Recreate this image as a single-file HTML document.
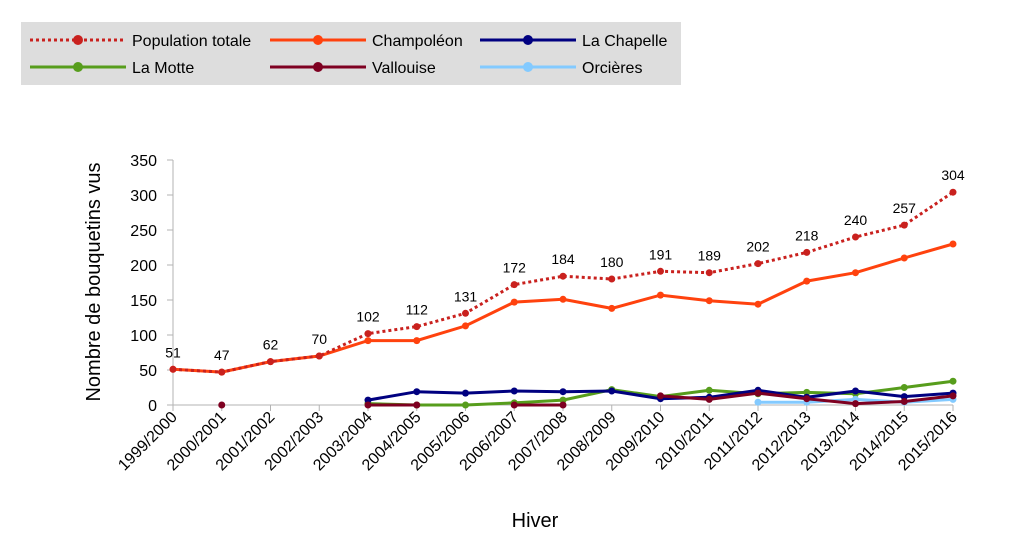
<!DOCTYPE html>
<html><head><meta charset="utf-8"><style>
body{margin:0;background:#fff;font-family:"Liberation Sans",sans-serif}
svg text{font-family:"Liberation Sans",sans-serif}
</style></head><body>
<svg id="c" width="1024" height="543">
<rect x="21" y="22" width="660" height="63" fill="#dddddd"/>
</svg>
<script>
const categories=["1999/2000","2000/2001","2001/2002","2002/2003","2003/2004","2004/2005","2005/2006","2006/2007","2007/2008","2008/2009","2009/2010","2010/2011","2011/2012","2012/2013","2013/2014","2014/2015","2015/2016"];
const popTotale=[51,47,62,70,102,112,131,172,184,180,191,189,202,218,240,257,304];
const champoleon=[51,47,62,70,92,92,113,147,151,138,157,149,144,177,189,210,230];
const laChapelle=[null,null,null,null,7,19,17,20,19,20,9,11,21,11,20,12,17];
const laMotte=[null,null,null,null,2,0,0,3,7,22,12,21,16,18,16,25,34];
const vallouise=[null,0,null,null,0,0,null,0,0,null,13,8,17,9,2,5,13];
const orcieres=[null,null,null,null,null,null,null,null,null,null,null,null,4,4,8,4,8];
const yTicks=[0,50,100,150,200,250,300,350];
const svg=document.getElementById('c');const NS='http://www.w3.org/2000/svg';
function mk(t,a,p){const e=document.createElementNS(NS,t);for(const k in a)e.setAttribute(k,a[k]);(p||svg).appendChild(e);return e;}
const X=i=>173+i*(953-173)/(categories.length-1);
const Y=v=>405-v*(245/350);
yTicks.forEach(v=>{const t=mk('text',{x:157,y:Y(v)+6,'text-anchor':'end','font-size':16,fill:'#000'});t.textContent=v;


mk('line',{x1:167,x2:173,y1:Y(v),y2:Y(v),stroke:'#b3b3b3'});});
mk('line',{x1:173,x2:173,y1:Y(350),y2:405,stroke:'#b3b3b3'});
mk('line',{x1:173,x2:953,y1:405,y2:405,stroke:'#b3b3b3'});
categories.forEach((c,i)=>{mk('line',{x1:X(i),x2:X(i),y1:405,y2:411,stroke:'#b3b3b3'});
const t=mk('text',{x:X(i)+5,y:418,'text-anchor':'end','font-size':16,transform:`rotate(-45 ${X(i)+5} 418)`});t.textContent=c;

});
function series(d,col,name,dash){const g=mk('g',{});


let seg=[];const segs=[];d.forEach((v,i)=>{if(v==null){if(seg.length)segs.push(seg);seg=[];}else seg.push([X(i),Y(v)]);});if(seg.length)segs.push(seg);
segs.forEach(s=>{if(s.length>1)mk('polyline',{points:s.map(p=>p.join(',')).join(' '),fill:'none',stroke:col,'stroke-width':3,'stroke-dasharray':dash||'none'},g);});
d.forEach((v,i)=>{if(v!=null)mk('circle',{cx:X(i),cy:Y(v),r:3.5,fill:col},g);});}
series(laMotte,'#579d1c','series-la-motte');
series(laChapelle,'#000080','series-la-chapelle');
series(orcieres,'#83caff','series-orcieres');
series(vallouise,'#7e0021','series-vallouise');
series(champoleon,'#ff420e','series-champoleon');
series(popTotale,'#c9211e','series-population-totale','3,3');
popTotale.forEach((v,i)=>{const t=mk('text',{x:X(i),y:Y(v)-12,'text-anchor':'middle','font-size':14});t.textContent=v;

});
const yt=mk('text',{x:100,y:282,'text-anchor':'middle','font-size':20,transform:'rotate(-90 100 282)'});yt.textContent='Nombre de bouquetins vus';

const xt=mk('text',{x:535,y:527,'text-anchor':'middle','font-size':20});xt.textContent='Hiver';

const leg=[['Population totale','#c9211e',30,40,'3,3'],['Champoléon','#ff420e',270,40],['La Chapelle','#000080',480,40],['La Motte','#579d1c',30,67],['Vallouise','#7e0021',270,67],['Orcières','#83caff',480,67]];
leg.forEach(l=>{const g=mk('g',{});


mk('line',{x1:l[2],x2:l[2]+96,y1:l[3],y2:l[3],stroke:l[1],'stroke-width':3,'stroke-dasharray':l[4]||'none'},g);
mk('circle',{cx:l[2]+48,cy:l[3],r:5,fill:l[1]},g);
const t=mk('text',{x:l[2]+102,y:l[3]+6,'font-size':16},g);t.textContent=l[0];});
</script>
</body></html>
